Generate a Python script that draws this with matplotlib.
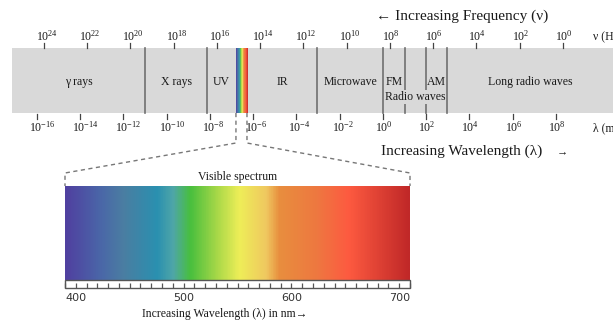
import numpy as np
import matplotlib
matplotlib.use("Agg")
import matplotlib.pyplot as plt
from matplotlib.patches import Rectangle
from matplotlib.colors import LinearSegmentedColormap
from matplotlib.transforms import offset_copy

plt.rcParams['font.family'] = ['Liberation Serif', 'DejaVu Serif']
plt.rcParams['mathtext.fontset'] = 'custom'
plt.rcParams['mathtext.rm'] = 'Liberation Serif'
plt.rcParams['mathtext.it'] = 'Liberation Serif:italic'

# ---- data (wavelengths as log10 of metres) ----
wave_exp = [-16, -14, -12, -10, -8, -6, -4, -2, 0, 2, 4, 6, 8]
freq_exp = [24, 22, 20, 18, 16, 14, 12, 10, 8, 6, 4, 2, 0]
freq_offset = 8.32          # log10(lambda) = offset - log10(nu), as drawn
band_names = ["γ rays", "X rays", "UV", "IR", "Microwave", "FM", "AM", "Long radio waves"]
band_edges = [-17.16, -11.0, -8.14, -6.80, -6.29, -3.05, 0.0, 1.02, 1.99, 2.96, 10.64]
divider_edges = [-11.0, -8.14, -3.05, 0.0, 1.02, 1.99, 2.96]
visible_band = (-6.80, -6.29)
radio_span = (0.0, 2.96)

vis_nm = [390, 422, 444, 475, 490, 506, 531, 552, 577, 589, 624, 654, 710]
vis_colors = ["#5040a0", "#4a66a8", "#4a7ea2", "#2a90b0", "#4fa6a8", "#48bf3e",
              "#a8d848", "#eeee58", "#f0c860", "#e88e3e", "#ee7840", "#fd5a40", "#c02828"]
nm_range = (390, 710)
nm_minor = list(range(390, 711, 10))
nm_labels = [400, 500, 600, 700]

# ---- layout ----
W, H = 613, 321
px_per_dec = 21.625
XMIN = -16 - 37 / px_per_dec
XMAX = XMIN + W / px_per_dec
band_top, band_bot = 48, 113
band_color = "#d9d9d9"
div_color = "#707070"
txt_color = "#1a1a1a"

fig = plt.figure(figsize=(W / 100, H / 100), dpi=100)
ax = fig.add_axes([0, 0, 1, 1])
ax.set_xlim(XMIN, XMAX)
ax.set_ylim(H, 0)
ax.axis("off")

cmap = LinearSegmentedColormap.from_list(
    "vis", [((n - nm_range[0]) / (nm_range[1] - nm_range[0]), c) for n, c in zip(vis_nm, vis_colors)])
grad = np.linspace(0, 1, 400).reshape(1, -1)

# main grey band
ax.add_patch(Rectangle((band_edges[0], band_top), XMAX - band_edges[0], band_bot - band_top,
                       facecolor=band_color, edgecolor="none", zorder=1))
for e in divider_edges:
    ax.plot([e, e], [band_top, band_bot], color=div_color, lw=1.2, zorder=2)
ax.imshow(grad, cmap=cmap, aspect="auto", extent=(visible_band[0], visible_band[1], band_bot, band_top),
          zorder=3, interpolation="bilinear")
ax.set_xlim(XMIN, XMAX)
ax.set_ylim(H, 0)

# band labels
spans = [(band_edges[0], band_edges[1]), (band_edges[1], band_edges[2]), (band_edges[2], band_edges[3]),
         (band_edges[4], band_edges[5]), (band_edges[5], band_edges[6]), (band_edges[6], band_edges[7]),
         (band_edges[8], band_edges[9]), (band_edges[9], band_edges[10])]
for name, (a, b) in zip(band_names, spans):
    ax.text((a + b) / 2, 82, name, ha="center", va="center", fontsize=8.5, color=txt_color, zorder=4)
ax.text(sum(radio_span) / 2, 97, "Radio waves", ha="center", va="center", fontsize=8.5, color=txt_color,
        zorder=4, bbox=dict(facecolor=band_color, edgecolor="none", pad=0.5))

# ticks
lab_tr = offset_copy(ax.transData, fig=fig, x=-8, y=0, units="dots")
for e in freq_exp:
    x = freq_offset - e
    ax.plot([x, x], [43, 47.5], color="#444444", lw=0.9)
    ax.text(x, 36, r"$\mathregular{10^{%d}}$" % e, transform=lab_tr, ha="left", va="center",
            fontsize=8.5, color=txt_color)
for e in wave_exp:
    ax.plot([e, e], [114, 119], color="#444444", lw=0.9)
    ax.text(e, 127, r"$\mathregular{10^{%d}}$" % e, transform=lab_tr, ha="left", va="center",
            fontsize=8.5, color=txt_color)
# unit labels run off the right edge, as in the original
ax.text(593 / px_per_dec + XMIN, 37, "ν (Hz)", ha="left", va="center", fontsize=8.5, color=txt_color)
ax.text(593 / px_per_dec + XMIN, 128, "λ (m)", ha="left", va="center", fontsize=8.5, color=txt_color)

ax.text(462 / px_per_dec + XMIN, 16, "← Increasing Frequency (ν)", ha="center", va="center",
        fontsize=11, color=txt_color)
ax.text(462 / px_per_dec + XMIN, 151, "Increasing Wavelength (λ)", ha="center", va="center",
        fontsize=11, color=txt_color)
ax.text(562 / px_per_dec + XMIN, 152, "→", ha="center", va="center", fontsize=8, color=txt_color)

# visible spectrum box
box_l, box_r = 65, 410
axv = fig.add_axes([box_l / W, 0, (box_r - box_l) / W, 1])
axv.set_xlim(*nm_range)
axv.set_ylim(H, 0)
axv.axis("off")
axv.imshow(grad, cmap=cmap, aspect="auto", extent=(nm_range[0], nm_range[1], 280, 186),
           interpolation="bilinear")
axv.set_xlim(*nm_range)
axv.set_ylim(H, 0)
axv.add_patch(Rectangle((nm_range[0], 280), nm_range[1] - nm_range[0], 8, facecolor="white",
                        edgecolor="#555555", lw=1.0, clip_on=False))
axv.vlines(nm_minor, 283, 288, color="#555555", lw=0.9, clip_on=False)
for n in nm_labels:
    axv.text(n, 298, str(n), ha="center", va="center", fontsize=8, family="DejaVu Sans",
             color="#333333", clip_on=False)
axv.text(sum(nm_range) / 2, 177, "Visible spectrum", ha="center", va="center", fontsize=8.5,
         color=txt_color, clip_on=False)
axv.text(sum(nm_range) / 2 - 12, 314, "Increasing Wavelength (λ) in nm→", ha="center", va="center",
         fontsize=8.5, color=txt_color, clip_on=False)

# dashed connectors from the band to the box
def vis_to_main(nm, y):
    disp = axv.transData.transform((nm, y))
    return ax.transData.inverted().transform(disp)

for bx, nm in ((visible_band[0], nm_range[0]), (visible_band[1], nm_range[1])):
    p3 = vis_to_main(nm, 173)
    p4 = vis_to_main(nm, 186)
    ax.plot([bx, bx, p3[0], p4[0]], [band_bot, 143, p3[1], p4[1]], color="#777777",
            lw=1.0, ls=(0, (3, 2.5)), zorder=5)

fig.savefig("out.png", dpi=100)
